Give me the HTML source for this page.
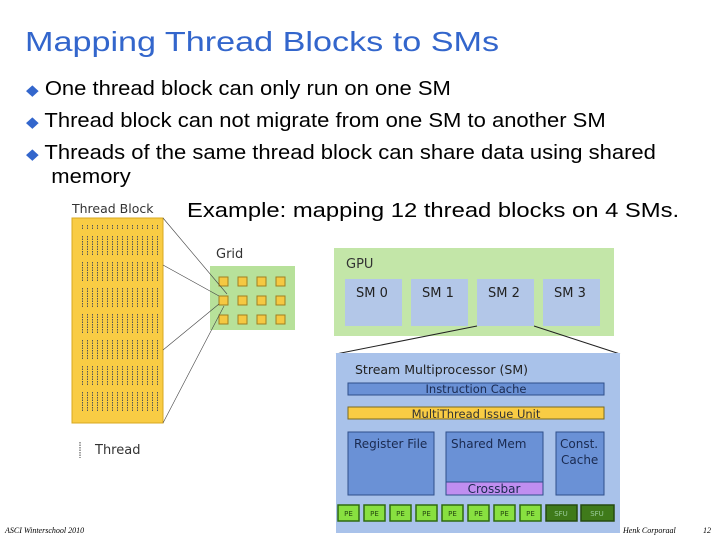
<!DOCTYPE html>
<html><head><meta charset="utf-8"><style>
body{margin:0;width:720px;height:540px;background:#fff;overflow:hidden;position:relative;font-family:"Liberation Sans",sans-serif}
.t{position:absolute;white-space:nowrap;transform-origin:0 0}
</style></head><body>
<div class="t" style="left:25px;top:26px;font-size:28px;color:#3366cc;transform:scaleX(1.22)">Mapping Thread Blocks to SMs</div>
<div class="t" style="left:26px;top:74px;font-size:20px;color:#000;line-height:31px;transform:scaleX(1.1)">
<div><span style="color:#3366cc;font-size:15px">◆</span> One thread block can only run on one SM</div>
<div><span style="color:#3366cc;font-size:15px">◆</span> Thread block can not migrate from one SM to another SM</div>
<div><span style="color:#3366cc;font-size:15px">◆</span> Threads of the same thread block can share data using shared</div>
<div style="line-height:14px;padding-left:23px">memory</div>
</div>
<div class="t" style="left:187px;top:200px;font-size:20px;transform:scaleX(1.19)">Example: mapping 12 thread blocks on 4 SMs.</div>
<svg width="720" height="540" style="position:absolute;left:0;top:0" font-family="DejaVu Sans, sans-serif">
<defs>
<pattern id="th" width="5" height="26" patternUnits="userSpaceOnUse">
<line x1="2.5" y1="2" x2="2.5" y2="22" stroke="#555" stroke-width="1" stroke-dasharray="1.5 1"/>
</pattern>
</defs>
<text x="72" y="213" font-size="12.5" fill="#333">Thread Block</text>
<rect x="72" y="218" width="91" height="205" fill="#f9cc44" stroke="#d8a820"/>
<rect x="78" y="224" width="80" height="194" fill="url(#th)"/>
<line x1="80" y1="442" x2="80" y2="458" stroke="#444" stroke-dasharray="1.5 1"/>
<text x="95" y="454" font-size="13" fill="#333">Thread</text>
<text x="216" y="258" font-size="13" fill="#333">Grid</text>
<rect x="210" y="266" width="85" height="64" fill="#b7e19a"/>
<g fill="#f5c842" stroke="#a08020" stroke-width="1">
<rect x="219" y="277" width="9" height="9"/><rect x="238" y="277" width="9" height="9"/><rect x="257" y="277" width="9" height="9"/><rect x="276" y="277" width="9" height="9"/>
<rect x="219" y="296" width="9" height="9"/><rect x="238" y="296" width="9" height="9"/><rect x="257" y="296" width="9" height="9"/><rect x="276" y="296" width="9" height="9"/>
<rect x="219" y="315" width="9" height="9"/><rect x="238" y="315" width="9" height="9"/><rect x="257" y="315" width="9" height="9"/><rect x="276" y="315" width="9" height="9"/>
</g>
<g stroke="#444" stroke-width="0.6">
<line x1="163" y1="218" x2="227" y2="294"/><line x1="163" y1="265" x2="219" y2="296"/>
<line x1="163" y1="350" x2="219" y2="304"/><line x1="163" y1="423" x2="224" y2="306"/>
</g>
<rect x="334" y="248" width="280" height="88" fill="#c3e6a8"/>
<text x="346" y="268" font-size="13" fill="#333">GPU</text>
<g fill="#b3c7e8"><rect x="345" y="279" width="57" height="47"/><rect x="411" y="279" width="57" height="47"/><rect x="477" y="279" width="57" height="47"/><rect x="543" y="279" width="57" height="47"/></g>
<g font-size="13" fill="#222"><text x="356" y="297">SM 0</text><text x="422" y="297">SM 1</text><text x="488" y="297">SM 2</text><text x="554" y="297">SM 3</text></g>
<line x1="477" y1="326" x2="336" y2="354" stroke="#222"/>
<line x1="534" y1="326" x2="620" y2="354" stroke="#222"/>
<rect x="336" y="353" width="284" height="180" fill="#a9c2ea"/>
<text x="355" y="374" font-size="12.5" fill="#222">Stream Multiprocessor (SM)</text>
<rect x="348" y="383" width="256" height="12" fill="#6a91d6" stroke="#2f4f8a"/>
<text x="476" y="393" font-size="11.5" fill="#1a2a50" text-anchor="middle">Instruction Cache</text>
<rect x="348" y="407" width="256" height="12" fill="#f9cc44" stroke="#7a6a20"/>
<text x="476" y="418" font-size="11.5" fill="#333" text-anchor="middle">MultiThread Issue Unit</text>
<g fill="#6a91d6" stroke="#2f4f8a">
<rect x="348" y="432" width="86" height="63"/><rect x="446" y="432" width="97" height="63"/><rect x="556" y="432" width="48" height="63"/>
</g>
<rect x="446" y="482" width="97" height="13" fill="#c08ef0" stroke="#2f4f8a"/>
<g font-size="12" fill="#1a2a50">
<text x="354" y="448">Register File</text><text x="451" y="448">Shared Mem</text>
<text x="560" y="448">Const.</text><text x="561" y="464">Cache</text>
<text x="494" y="493" text-anchor="middle">Crossbar</text></g>
<g fill="#88e040" stroke="#2f6a10" stroke-width="1.5">
<rect x="338" y="505" width="21" height="16"/><rect x="364" y="505" width="21" height="16"/><rect x="390" y="505" width="21" height="16"/><rect x="416" y="505" width="21" height="16"/>
<rect x="442" y="505" width="21" height="16"/><rect x="468" y="505" width="21" height="16"/><rect x="494" y="505" width="21" height="16"/><rect x="520" y="505" width="21" height="16"/>
</g>
<g fill="#3f7a1a" stroke="#254a10" stroke-width="1.5"><rect x="546" y="505" width="31" height="16"/><rect x="581" y="505" width="33" height="16"/></g>
<g font-size="7" fill="#254a10" text-anchor="middle">
<text x="348.5" y="516">PE</text><text x="374.5" y="516">PE</text><text x="400.5" y="516">PE</text><text x="426.5" y="516">PE</text>
<text x="452.5" y="516">PE</text><text x="478.5" y="516">PE</text><text x="504.5" y="516">PE</text><text x="530.5" y="516">PE</text>
<text x="561" y="516" fill="#9c9">SFU</text><text x="597" y="516" fill="#9c9">SFU</text></g>
<g font-family="Liberation Serif, serif" font-style="italic" font-size="8" fill="#000">
<text x="5" y="533">ASCI Winterschool 2010</text><text x="623" y="533">Henk Corporaal</text><text x="703" y="533">12</text></g>
</svg>
</body></html>
